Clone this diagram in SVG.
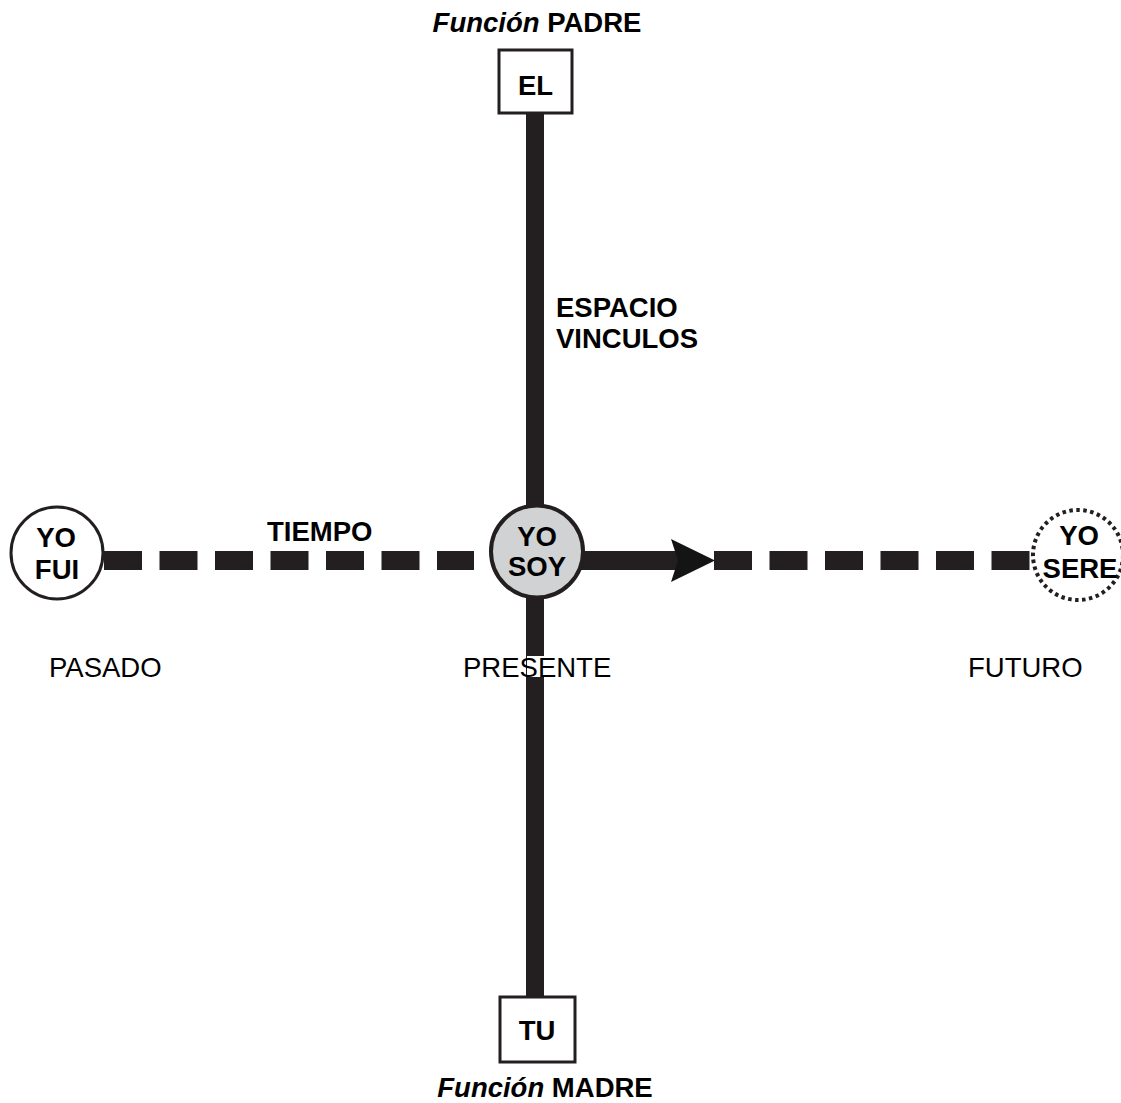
<svg xmlns="http://www.w3.org/2000/svg" width="1121" height="1103" viewBox="0 0 1121 1103">
<style>
.b{font-family:"Liberation Sans",Arial,sans-serif;font-weight:bold;font-size:27.5px;fill:#000}
.r{font-family:"Liberation Sans",Arial,sans-serif;font-size:27.5px;fill:#000}
.i{font-style:italic}
.node{fill:#fff;stroke:#231f20;stroke-width:3}
.bar{stroke:#231f20;stroke-width:18;fill:none}
.dash{stroke:#231f20;stroke-width:19;fill:none;stroke-dasharray:38 17.5}
</style>
<rect width="1121" height="1103" fill="#fff"/>
<g id="connectors">
<line class="bar" x1="535" y1="113" x2="535" y2="996"/>
<rect x="527" y="656" width="19" height="21" fill="#fff"/>
<line class="dash" x1="104" y1="560.5" x2="474" y2="560.5"/>
<line class="bar" x1="580" y1="560.5" x2="680" y2="560.5" style="stroke-width:19"/>
<polygon points="671,539 715,560.5 671,582 678,560.5" fill="#141414"/>
<line class="dash" x1="714" y1="560.5" x2="1032" y2="560.5"/>
</g>
<g id="padre-label"><text class="b" x="537" y="32" text-anchor="middle"><tspan class="i">Función</tspan> PADRE</text></g>
<g id="el"><rect class="node" x="499" y="50" width="73" height="63"/><text class="b" x="535.5" y="95" text-anchor="middle">EL</text></g>
<g id="tu"><rect class="node" x="500" y="997" width="75" height="65"/><text class="b" x="537" y="1040" text-anchor="middle">TU</text></g>
<g id="madre-label"><text class="b" x="545" y="1097" text-anchor="middle"><tspan class="i">Función</tspan> MADRE</text></g>
<g id="espacio"><text class="b" x="556" y="317">ESPACIO</text><text class="b" x="556" y="348">VINCULOS</text></g>
<g id="tiempo"><text class="b" x="267" y="541">TIEMPO</text></g>
<g id="yofui"><circle class="node" cx="57" cy="553" r="46"/><text class="b" x="56" y="547" text-anchor="middle">YO</text><text class="b" x="57" y="579" text-anchor="middle">FUI</text></g>
<g id="yosoy"><circle cx="537" cy="551.5" r="46" fill="#d1d2d4" stroke="#231f20" stroke-width="4"/><text class="b" x="537" y="546" text-anchor="middle">YO</text><text class="b" x="537" y="576" text-anchor="middle">SOY</text></g>
<g id="yosere"><circle cx="1078" cy="555" r="45" fill="#fff" stroke="#231f20" stroke-width="4" stroke-dasharray="3.5 3.5"/><text class="b" x="1079" y="545" text-anchor="middle">YO</text><text class="b" x="1080" y="578" text-anchor="middle">SERE</text></g>
<g id="labels"><text class="r" x="49" y="677">PASADO</text><text class="r" x="463" y="677">PRESENTE</text><text class="r" x="968" y="677">FUTURO</text></g>
</svg>
